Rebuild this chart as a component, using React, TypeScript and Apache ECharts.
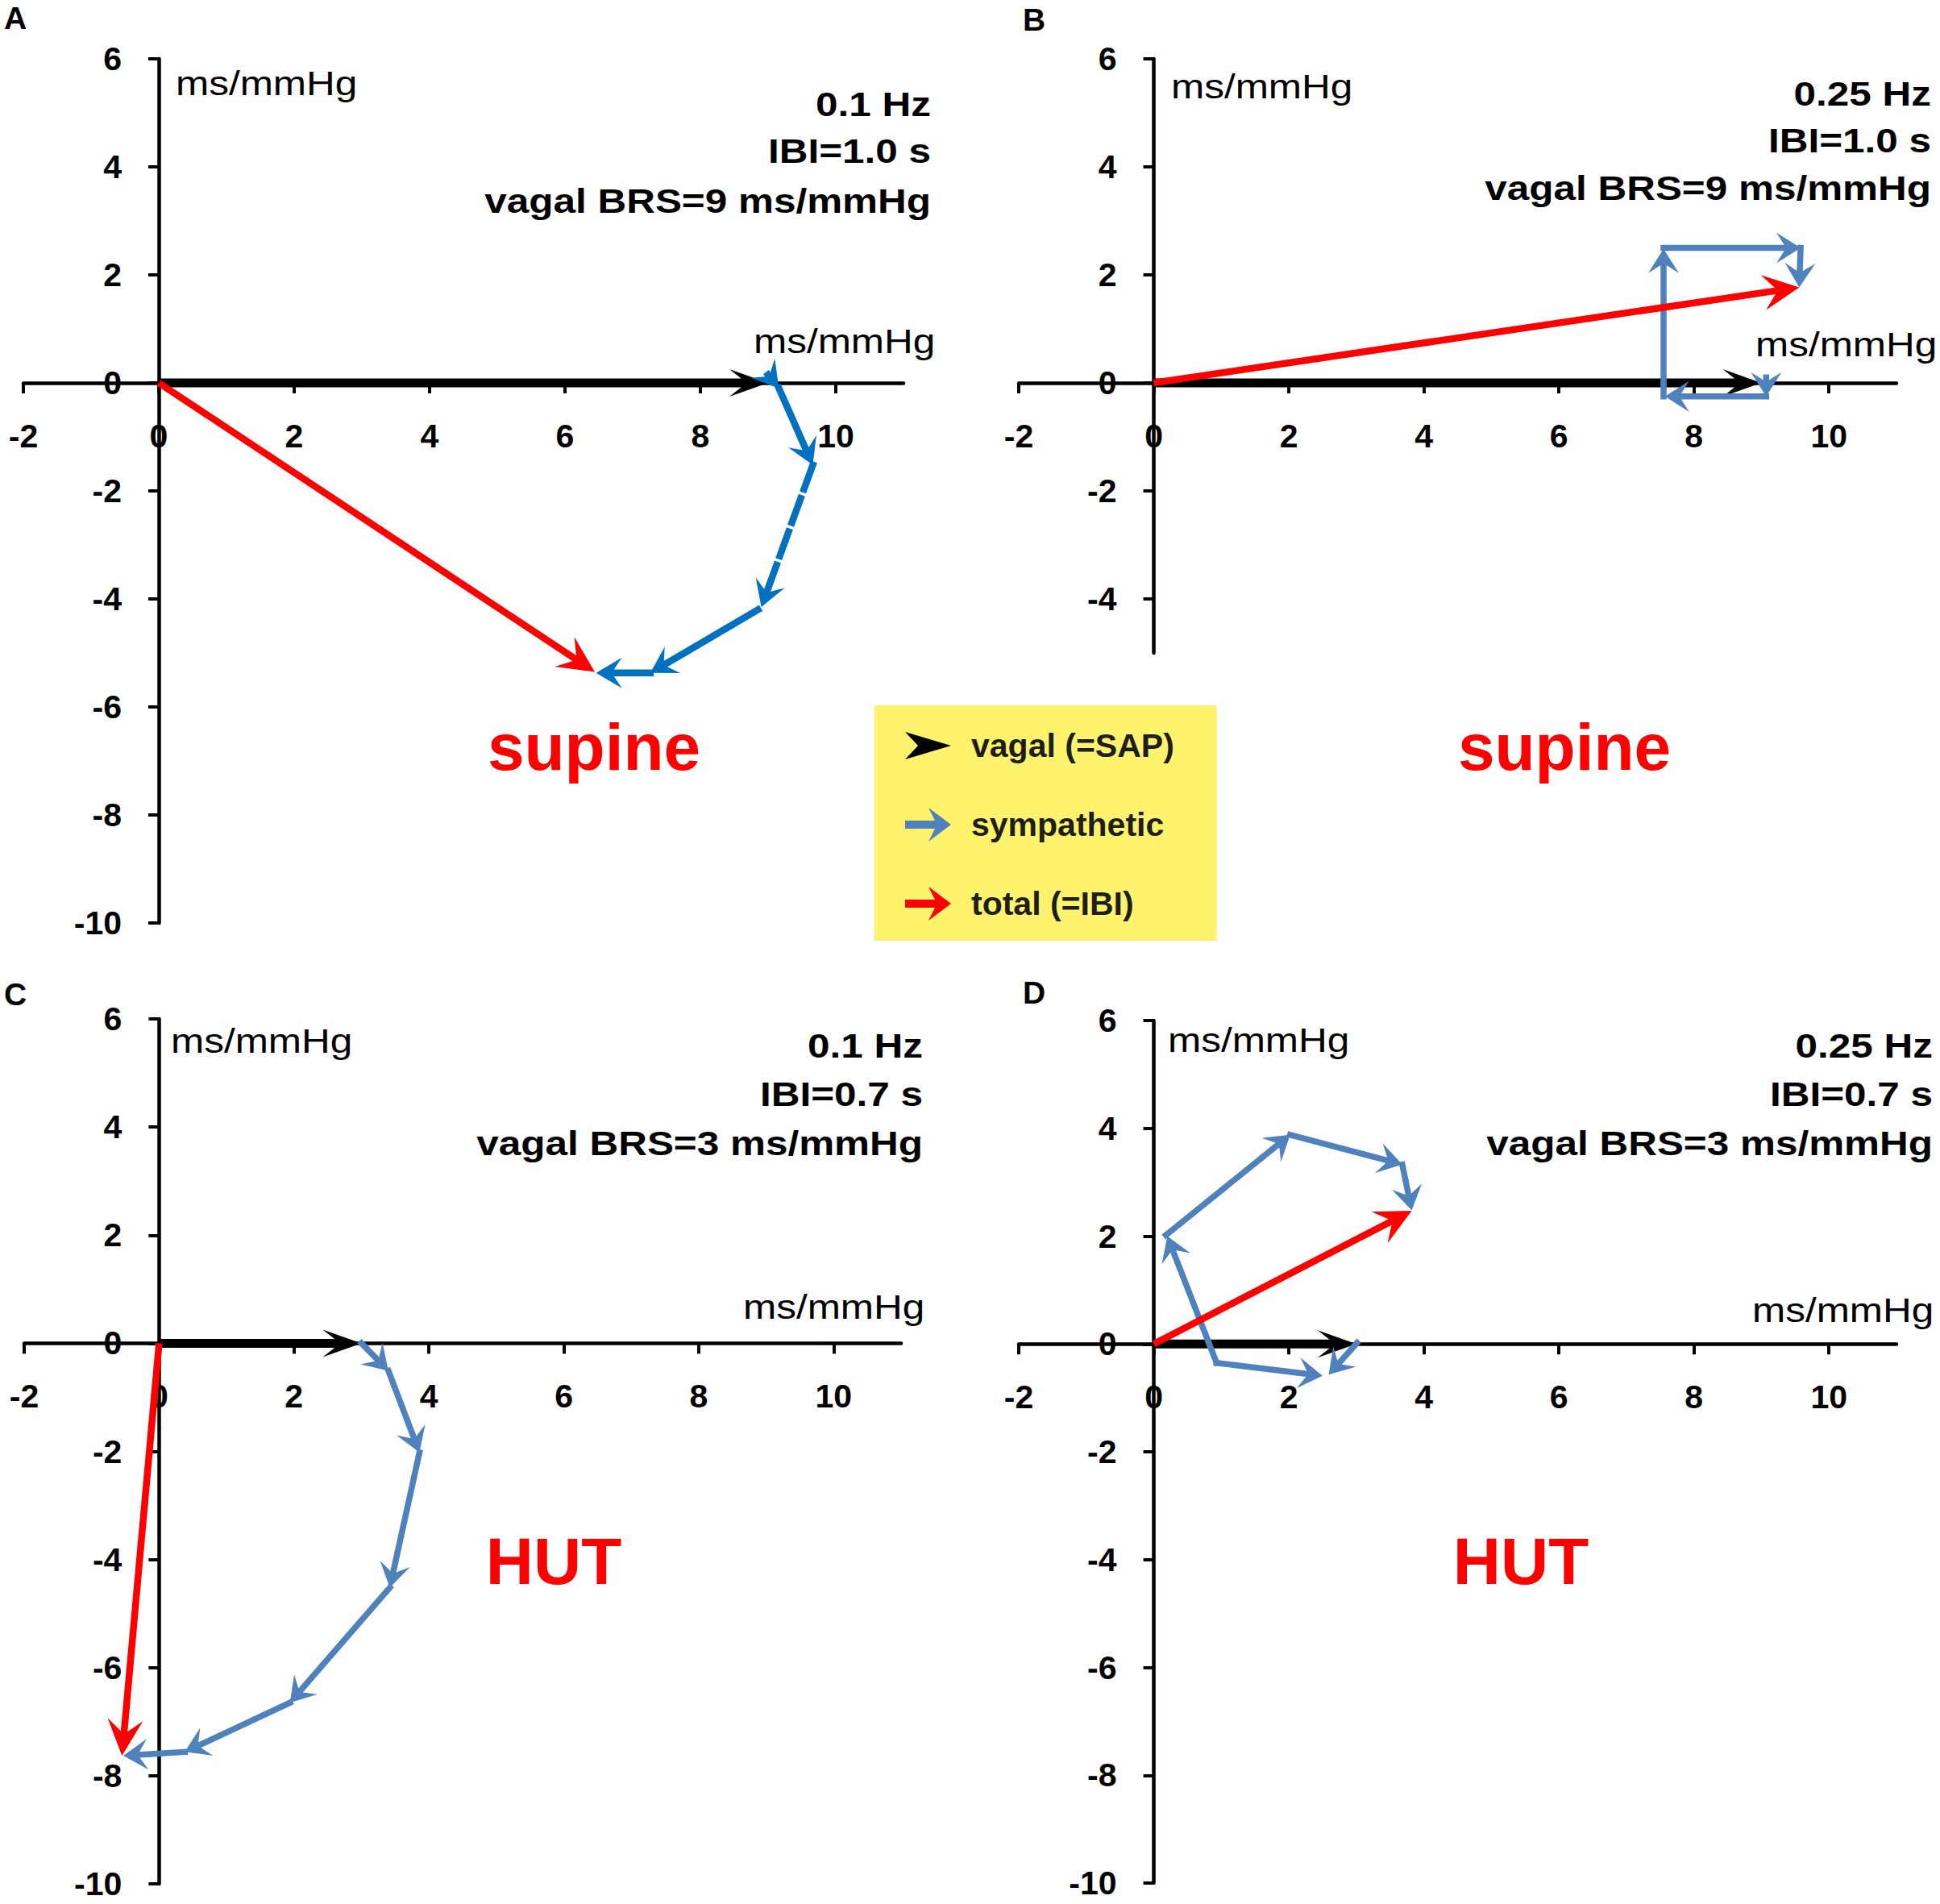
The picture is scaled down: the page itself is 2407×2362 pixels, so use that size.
import { useEffect, useRef } from "react";
import * as echarts from "echarts";

// ---------- tick values ----------
const X_TICKS = [-2, 0, 2, 4, 6, 8, 10];
const Y_TICKS = [-10, -8, -6, -4, -2, 0, 2, 4, 6];
const Y_TICKS_B = [-4, -2, 0, 2, 4, 6];

// ---------- vectors: [x1, y1, x2, y2, dashed] (ms/mmHg) ----------
const vagalA = [[0, 0, 9, 0, 0]];
const sympatheticA = [
  [9.0, 0.15, 9.16, -0.1, 0],
  [9.16, -0.1, 9.66, -1.52, 0],
  [9.66, -1.52, 8.9, -4.15, 1],
  [8.85, -4.2, 7.26, -5.37, 0],
  [7.26, -5.37, 6.46, -5.37, 0],
];
const totalA = [[0, 0, 6.44, -5.35, 0]];

const vagalB = [[0, 0, 9, 0, 0]];
const sympatheticB = [
  [9.07, 0.1, 9.07, -0.25, 0],
  [9.07, -0.25, 7.57, -0.25, 0],
  [7.55, -0.25, 7.55, 2.48, 0],
  [7.55, 2.5, 9.58, 2.5, 0],
  [9.58, 2.5, 9.56, 1.77, 0],
];
const totalB = [[0, 0, 9.56, 1.77, 0]];

const vagalC = [[0, 0, 3, 0, 0]];
const sympatheticC = [
  [3, 0, 3.4, -0.51, 0],
  [3.4, -0.51, 3.86, -2.02, 0],
  [3.86, -2.02, 3.42, -4.52, 0],
  [3.42, -4.52, 1.94, -6.65, 0],
  [1.94, -6.65, 0.38, -7.56, 0],
  [0.38, -7.56, -0.53, -7.63, 0],
];
const totalC = [[0, 0, -0.55, -7.63, 0]];

const vagalD = [[0, 0, 3, 0, 0]];
const sympatheticD = [
  [3.01, 0.02, 2.59, -0.57, 0],
  [0.93, -0.35, 2.5, -0.59, 0],
  [0.93, -0.35, 0.2, 2.0, 0],
  [0.18, 2.02, 2.02, 3.88, 0],
  [2.02, 3.88, 3.68, 3.33, 0],
  [3.68, 3.33, 3.82, 2.48, 0],
];
const totalD = [[0, 0, 3.82, 2.47, 0]];

// ---------- texts ----------
const annotA = ["0.1 Hz", "IBI=1.0 s", "vagal BRS=9 ms/mmHg"];
const annotB = ["0.25 Hz", "IBI=1.0 s", "vagal BRS=9 ms/mmHg"];
const annotC = ["0.1 Hz", "IBI=0.7 s", "vagal BRS=3 ms/mmHg"];
const annotD = ["0.25 Hz", "IBI=0.7 s", "vagal BRS=3 ms/mmHg"];
const conditions = ["supine", "supine", "HUT", "HUT"];
const panelLetters = ["A", "B", "C", "D"];
const unitText = "ms/mmHg";
const legendNames = ["vagal (=SAP)", "sympathetic", "total (=IBI)"];

const BLACK = "#000000";
const BLUE_DARK = "#0070C0";
const BLUE = "#4F81BD";
const RED = "#FF0000";

const X_MIN = -2;
const X_MAX = 11;
const Y_MAX = 6;

const panels = [
  {
    grid: { left: 29, top: 73, width: 1092, height: 1072 },
    yMin: -10, yTicks: Y_TICKS,
    vagal: vagalA, symp: sympatheticA, total: totalA, sympColor: BLUE_DARK, sympWidth: 8.5, sympHead: [32, 19],
    annot: annotA, annotRight: 1155, annotY: [129, 187, 249],
    letter: [19, 22], cond: [737, 926],
    yUnit: [218, 103], xUnit: [935, 423],
  },
  {
    grid: { left: 1264, top: 73, width: 1089, height: 737 },
    yMin: -5, yTicks: Y_TICKS_B,
    vagal: vagalB, symp: sympatheticB, total: totalB, sympColor: BLUE, sympWidth: 7.5, sympHead: [30, 19],
    annot: annotB, annotRight: 2396, annotY: [116, 174, 233],
    letter: [1283, 24], cond: [1941, 926],
    yUnit: [1453, 107], xUnit: [2178, 427],
  },
  {
    grid: { left: 30, top: 1264, width: 1088, height: 1073 },
    yMin: -10, yTicks: Y_TICKS,
    vagal: vagalC, symp: sympatheticC, total: totalC, sympColor: BLUE, sympWidth: 7.5, sympHead: [30, 19],
    annot: annotC, annotRight: 1145, annotY: [1297, 1357, 1418],
    letter: [19, 1233], cond: [687, 1936],
    yUnit: [212, 1291], xUnit: [922, 1621],
  },
  {
    grid: { left: 1264, top: 1266, width: 1089, height: 1070 },
    yMin: -10, yTicks: Y_TICKS,
    vagal: vagalD, symp: sympatheticD, total: totalD, sympColor: BLUE, sympWidth: 7.5, sympHead: [30, 19],
    annot: annotD, annotRight: 2398, annotY: [1297, 1357, 1418],
    letter: [1283, 1231], cond: [1887, 1936],
    yUnit: [1449, 1290], xUnit: [2174, 1625],
  },
];

function arrowRenderer(color: string, width: number, headLen: number, headHalf: number, notch: number, cap: string) {
  return (_params: any, api: any) => {
    const p1 = api.coord([api.value(0), api.value(1)]);
    const p2 = api.coord([api.value(2), api.value(3)]);
    const dashed = api.value(4) === 1;
    const dx = p2[0] - p1[0];
    const dy = p2[1] - p1[1];
    const len = Math.hypot(dx, dy) || 1;
    const ux = dx / len;
    const uy = dy / len;
    const nx = -uy;
    const ny = ux;
    const bx = p2[0] - ux * headLen;
    const by = p2[1] - uy * headLen;
    const mx = p2[0] - ux * headLen * notch;
    const my = p2[1] - uy * headLen * notch;
    const children: any[] = [];
    if (len - headLen * notch > 0) {
      children.push({
        type: "line",
        shape: { x1: p1[0], y1: p1[1], x2: mx, y2: my },
        style: {
          stroke: color,
          lineWidth: width,
          lineCap: cap,
          lineDash: dashed ? [32, 12] : undefined,
        },
      });
    }
    children.push({
      type: "polygon",
      shape: {
        points: [
          [p2[0], p2[1]],
          [bx + nx * headHalf, by + ny * headHalf],
          [mx, my],
          [bx - nx * headHalf, by - ny * headHalf],
        ],
      },
      style: { fill: color },
    });
    return { type: "group", children };
  };
}

const tickLabelStyle = {
  fontFamily: "Liberation Sans",
  fontWeight: "bold" as const,
  fontSize: 41,
  lineHeight: 41,
  color: "#000",
};

const hiddenAxis = (gridIndex: number, min: number, max: number) => ({
  type: "value",
  gridIndex,
  min,
  max,
  show: false,
  axisLine: { show: false, onZero: false },
  axisTick: { show: false },
  axisLabel: { show: false },
  splitLine: { show: false },
});

function buildOption() {
  const grid: any[] = [];
  const xAxis: any[] = [];
  const yAxis: any[] = [];
  const series: any[] = [];
  const graphic: any[] = [];

  panels.forEach((p, i) => {
    const g = p.grid;
    const kx = g.width / (X_MAX - X_MIN);
    const ky = g.height / (Y_MAX - p.yMin);

    // main grid: axis lines through zero, ticks, vectors
    const mainIdx = grid.length;
    grid.push({ ...g, outerBoundsMode: "none", containLabel: false });
    xAxis.push({
      type: "value",
      gridIndex: mainIdx,
      min: X_MIN,
      max: X_MAX,
      axisLine: { show: true, onZero: true, lineStyle: { color: "#000", width: 4.5 } },
      axisTick: { show: true, length: 13, lineStyle: { color: "#000", width: 4 }, customValues: X_TICKS },
      axisLabel: { show: false },
      splitLine: { show: false },
    });
    yAxis.push({
      type: "value",
      gridIndex: mainIdx,
      min: p.yMin,
      max: Y_MAX,
      axisLine: { show: true, onZero: true, lineStyle: { color: "#000", width: 4.5 } },
      axisTick: { show: true, length: 13, lineStyle: { color: "#000", width: 4 }, customValues: p.yTicks },
      axisLabel: { show: false },
      splitLine: { show: false },
    });

    // label grid for x tick labels: its bottom edge lies on y = 0
    const xLabIdx = grid.length;
    grid.push({
      left: g.left, width: g.width, top: g.top, height: ky * Y_MAX,
      outerBoundsMode: "none", containLabel: false,
    });
    xAxis.push({
      type: "value",
      gridIndex: xLabIdx,
      position: "bottom",
      min: X_MIN,
      max: X_MAX,
      axisLine: { show: false, onZero: false },
      axisTick: { show: false },
      axisLabel: { ...tickLabelStyle, margin: 45, customValues: X_TICKS },
      splitLine: { show: false },
    });
    yAxis.push(hiddenAxis(xLabIdx, 0, Y_MAX));

    // label grid for y tick labels: its left edge lies on x = 0
    const yLabIdx = grid.length;
    grid.push({
      left: g.left + kx * (0 - X_MIN), width: kx * X_MAX, top: g.top, height: g.height,
      outerBoundsMode: "none", containLabel: false,
    });
    xAxis.push(hiddenAxis(yLabIdx, 0, X_MAX));
    yAxis.push({
      type: "value",
      gridIndex: yLabIdx,
      position: "left",
      min: p.yMin,
      max: Y_MAX,
      axisLine: { show: false, onZero: false },
      axisTick: { show: false },
      axisLabel: { ...tickLabelStyle, margin: 46, customValues: p.yTicks },
      splitLine: { show: false },
    });

    const common = {
      type: "custom",
      coordinateSystem: "cartesian2d",
      xAxisIndex: mainIdx,
      yAxisIndex: mainIdx,
      encode: { x: [0, 2], y: [1, 3] },
      silent: true,
    };
    series.push({
      ...common,
      name: legendNames[0],
      itemStyle: { color: BLACK },
      data: p.vagal,
      renderItem: arrowRenderer(BLACK, 11, 48, 17, 0.55, "butt"),
      z: 3,
    });
    series.push({
      ...common,
      name: legendNames[1],
      itemStyle: { color: p.sympColor },
      data: p.symp,
      renderItem: arrowRenderer(p.sympColor, p.sympWidth, p.sympHead[0], p.sympHead[1], 0.6, "square"),
      z: 4,
    });
    series.push({
      ...common,
      name: legendNames[2],
      itemStyle: { color: RED },
      data: p.total,
      renderItem: arrowRenderer(RED, 8.5, 45, 22, 0.6, "butt"),
      z: 5,
    });

    // annotation block
    p.annot.forEach((line, k) => {
      graphic.push({
        type: "text",
        x: p.annotRight,
        y: p.annotY[k],
        scaleX: 1.15,
        style: {
          text: line,
          fill: "#000",
          fontFamily: "Liberation Sans",
          fontWeight: "bold",
          fontSize: 43,
          align: "right",
          verticalAlign: "middle",
        },
      });
    });
    // units
    [p.yUnit, p.xUnit].forEach((pos) => {
      graphic.push({
        type: "text",
        x: pos[0],
        y: pos[1],
        scaleX: 1.15,
        style: {
          text: unitText,
          fill: "#000",
          fontFamily: "Liberation Sans",
          fontSize: 43,
          align: "left",
          verticalAlign: "middle",
        },
      });
    });
    // panel letter
    graphic.push({
      type: "text",
      x: p.letter[0],
      y: p.letter[1],
      style: {
        text: panelLetters[i],
        fill: "#000",
        fontFamily: "Liberation Sans",
        fontWeight: "bold",
        fontSize: 39,
        align: "center",
        verticalAlign: "middle",
      },
    });
    // condition
    graphic.push({
      type: "text",
      x: p.cond[0],
      y: p.cond[1],
      style: {
        text: conditions[i],
        fill: RED,
        fontFamily: "Liberation Sans",
        fontWeight: "bold",
        fontSize: 82,
        align: "center",
        verticalAlign: "middle",
      },
    });
  });

  const arrowIcon = "path://M0,16 L37,16 L29,0 L57,21 L29,42 L37,26 L0,26 Z";
  const stealthIcon = "path://M0,4 L57,21 L0,38 L16,21 Z";

  return {
    animation: false,
    backgroundColor: "#ffffff",
    grid,
    xAxis,
    yAxis,
    series,
    graphic,
    legend: {
      left: 1085,
      top: 875,
      orient: "vertical",
      selectedMode: false,
      backgroundColor: "#FFF36E",
      padding: [29, 53, 25, 38],
      itemGap: 56,
      itemWidth: 57,
      itemHeight: 42,
      textStyle: {
        fontFamily: "Liberation Sans",
        fontWeight: "bold",
        fontSize: 41,
        lineHeight: 42,
        color: "#1E1E1E",
        padding: [0, 0, 0, 20],
      },
      data: [
        { name: legendNames[0], icon: stealthIcon, itemStyle: { color: BLACK, borderWidth: 0 } },
        { name: legendNames[1], icon: arrowIcon, itemStyle: { color: BLUE, borderWidth: 0 } },
        { name: legendNames[2], icon: arrowIcon, itemStyle: { color: RED, borderWidth: 0 } },
      ],
    },
  };
}

export default function App() {
  const ref = useRef<HTMLDivElement>(null);
  useEffect(() => {
    if (!ref.current) return;
    const chart = echarts.init(ref.current, null, { renderer: "svg" });
    chart.setOption(buildOption() as any);
    return () => chart.dispose();
  }, []);
  return (
    <div
      ref={ref}
      style={{ position: "absolute", left: 0, top: 0, width: 2407, height: 2362, background: "#fff" }}
    />
  );
}
